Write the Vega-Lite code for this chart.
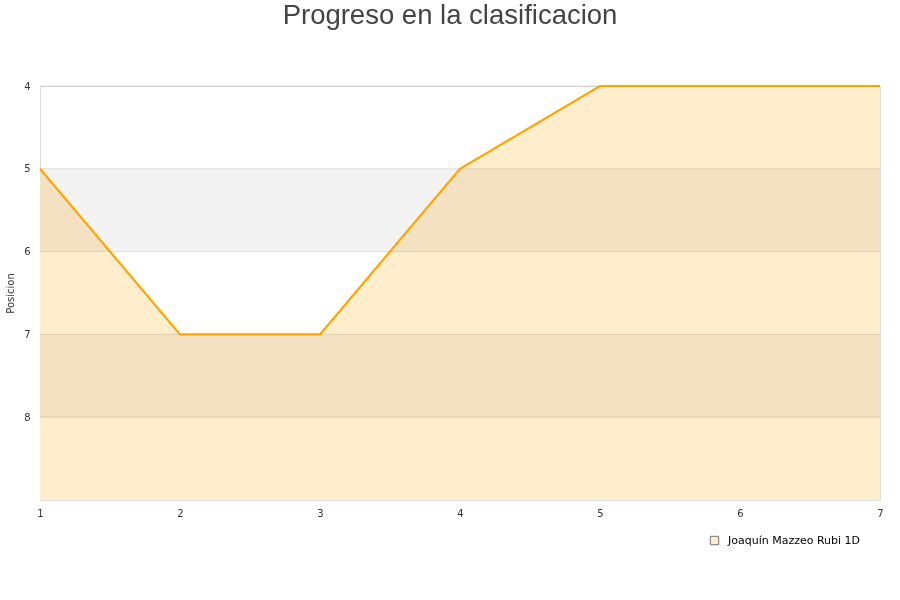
{
  "$schema": "https://vega.github.io/schema/vega-lite/v6.json",
  "autosize": {"type": "none"},
  "width": 840,
  "height": 414,
  "padding": {"left": 40, "top": 86, "right": 20, "bottom": 100},
  "background": "white",
  "title": {
    "text": "Progreso en la clasificacion",
    "font": "Liberation Sans",
    "fontSize": 27.5,
    "fontWeight": "normal",
    "color": "#444444",
    "anchor": "middle",
    "dx": -10,
    "offset": 52
  },
  "config": {
    "view": {"stroke": "#dddddd"},
    "axis": {
      "labelFont": "DejaVu Sans",
      "labelFontSize": 10,
      "labelColor": "#333333",
      "titleFont": "DejaVu Sans",
      "titleFontSize": 10,
      "titleFontWeight": "normal",
      "titleColor": "#333333",
      "domainColor": "#dddddd",
      "ticks": false
    }
  },
  "datasets": {
    "prog": [
      {"jornada": 1, "posicion": 5, "jugador": "Joaquín Mazzeo Rubi 1D"},
      {"jornada": 2, "posicion": 7, "jugador": "Joaquín Mazzeo Rubi 1D"},
      {"jornada": 3, "posicion": 7, "jugador": "Joaquín Mazzeo Rubi 1D"},
      {"jornada": 4, "posicion": 5, "jugador": "Joaquín Mazzeo Rubi 1D"},
      {"jornada": 5, "posicion": 4, "jugador": "Joaquín Mazzeo Rubi 1D"},
      {"jornada": 6, "posicion": 4, "jugador": "Joaquín Mazzeo Rubi 1D"},
      {"jornada": 7, "posicion": 4, "jugador": "Joaquín Mazzeo Rubi 1D"}
    ],
    "bands": [
      {"desde": 5, "hasta": 6, "xa": 1, "xb": 7},
      {"desde": 7, "hasta": 8, "xa": 1, "xb": 7}
    ],
    "grid": [
      {"valor": 4}, {"valor": 5}, {"valor": 6}, {"valor": 7}, {"valor": 8}
    ]
  },
  "layer": [
    {
      "data": {"name": "prog"},
      "mark": {"type": "area", "interpolate": "linear"},
      "encoding": {
        "x": {
          "field": "jornada", "type": "quantitative",
          "scale": {"domain": [1, 7], "nice": false, "zero": false},
          "axis": {"title": null, "values": [1, 2, 3, 4, 5, 6, 7], "format": "d", "grid": false, "labelPadding": 8, "labelFlush": false}
        },
        "y": {
          "field": "posicion", "type": "quantitative",
          "scale": {"domain": [4, 9], "reverse": true, "nice": false, "zero": false},
          "axis": {"title": "Posicion", "values": [4, 5, 6, 7, 8], "format": "d", "grid": false, "labelPadding": 10, "titlePadding": 8, "labelAlign": "right"}
        },
        "y2": {"datum": 9},
        "fill": {
          "field": "jugador", "type": "nominal",
          "scale": {"range": ["#ffedcc"]},
          "legend": {
            "title": null,
            "orient": "none",
            "legendX": 669,
            "legendY": 449,
            "symbolType": "square",
            "symbolSize": 70,
            "symbolStrokeColor": "#777777",
            "symbolStrokeWidth": 1,
            "labelFont": "DejaVu Sans",
            "labelFontSize": 11,
            "labelColor": "#000000",
            "labelOffset": 8
          }
        }
      }
    },
    {
      "data": {"name": "bands"},
      "mark": {"type": "rect", "color": "#f3f3f3", "blend": "multiply"},
      "encoding": {
        "x": {"field": "xa", "type": "quantitative"},
        "x2": {"field": "xb"},
        "y": {"field": "desde", "type": "quantitative"},
        "y2": {"field": "hasta"}
      }
    },
    {
      "data": {"name": "grid"},
      "mark": {"type": "rule", "color": "#e2e2e2", "strokeWidth": 1, "blend": "multiply"},
      "encoding": {
        "y": {"field": "valor", "type": "quantitative"}
      }
    },
    {
      "data": {"name": "prog"},
      "mark": {"type": "line", "color": "#ffa500", "strokeWidth": 2.2},
      "encoding": {
        "x": {"field": "jornada", "type": "quantitative"},
        "y": {"field": "posicion", "type": "quantitative"}
      }
    }
  ]
}
